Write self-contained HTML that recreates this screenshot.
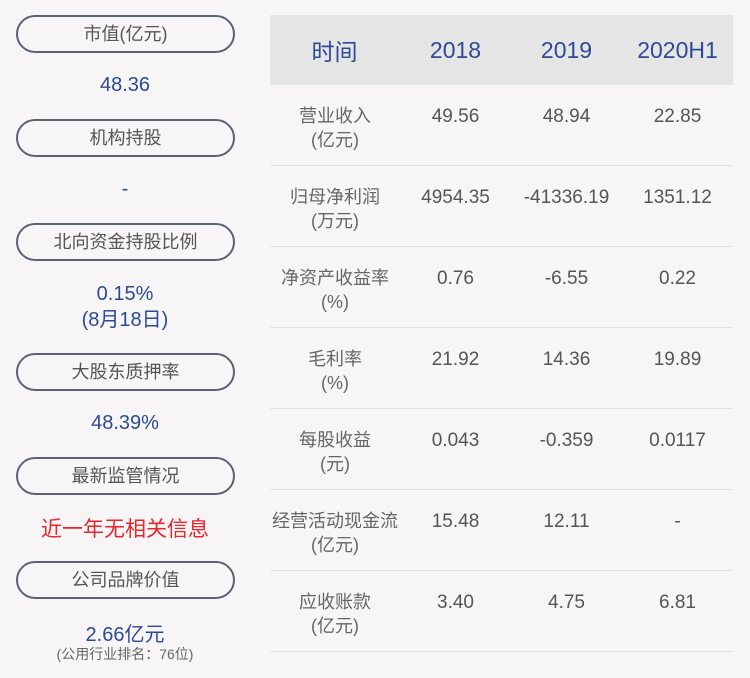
<!DOCTYPE html>
<html><head><meta charset="utf-8"><style>
body{margin:0;width:750px;height:678px;background:#f8f5f6;font-family:"Liberation Sans","Noto Sans CJK SC",sans-serif;position:relative;overflow:hidden}
.p{position:absolute;left:16px;width:215px;height:34px;border:2px solid #5b6271;border-radius:19px;text-align:center;line-height:34px;font-size:18px;color:#555}
.v{position:absolute;left:0;width:250px;text-align:center;font-size:20px;color:#2d4a94}
.t{position:absolute;text-align:center;width:111px;font-size:19px;color:#555}
.l{position:absolute;left:270px;width:130px;text-align:center;font-size:18px;color:#666;line-height:24px}
.h{position:absolute;left:270px;width:463px;height:1px;background:#e3e1e2}
</style></head><body>
<div class="p" style="top:15px">市值(亿元)</div>
<div class="v" style="top:74px">48.36</div>
<div class="p" style="top:119px">机构持股</div>
<div class="v" style="top:178px">-</div>
<div class="p" style="top:223px">北向资金持股比例</div>
<div class="v" style="top:281px;line-height:26px">0.15%<br>(8月18日)</div>
<div class="p" style="top:353px">大股东质押率</div>
<div class="v" style="top:412px">48.39%</div>
<div class="p" style="top:457px">最新监管情况</div>
<div class="v" style="top:513px;color:#e8262b;font-size:21px">近一年无相关信息</div>
<div class="p" style="top:561px">公司品牌价值</div>
<div class="v" style="top:618px">2.66亿元</div>
<div class="v" style="top:644px;font-size:14px;color:#666">(公用行业排名：76位)</div>

<div style="position:absolute;left:270px;top:15px;width:463px;height:70px;background:#e6e5e6"></div>
<div class="t" style="left:279px;top:33px;font-size:23px;color:#2d4a94">时间</div>
<div class="t" style="left:400px;top:37px;font-size:23px;color:#2d4a94">2018</div>
<div class="t" style="left:511px;top:37px;font-size:23px;color:#2d4a94">2019</div>
<div class="t" style="left:622px;top:37px;font-size:23px;color:#2d4a94">2020H1</div>

<div class="l" style="top:104px">营业收入<br>(亿元)</div>
<div class="t" style="left:400px;top:106px">49.56</div><div class="t" style="left:511px;top:106px">48.94</div><div class="t" style="left:622px;top:106px">22.85</div>
<div class="h" style="top:165px"></div>
<div class="l" style="top:185px">归母净利润<br>(万元)</div>
<div class="t" style="left:400px;top:187px">4954.35</div><div class="t" style="left:511px;top:187px">-41336.19</div><div class="t" style="left:622px;top:187px">1351.12</div>
<div class="h" style="top:246px"></div>
<div class="l" style="top:266px">净资产收益率<br>(%)</div>
<div class="t" style="left:400px;top:268px">0.76</div><div class="t" style="left:511px;top:268px">-6.55</div><div class="t" style="left:622px;top:268px">0.22</div>
<div class="h" style="top:327px"></div>
<div class="l" style="top:347px">毛利率<br>(%)</div>
<div class="t" style="left:400px;top:349px">21.92</div><div class="t" style="left:511px;top:349px">14.36</div><div class="t" style="left:622px;top:349px">19.89</div>
<div class="h" style="top:408px"></div>
<div class="l" style="top:428px">每股收益<br>(元)</div>
<div class="t" style="left:400px;top:430px">0.043</div><div class="t" style="left:511px;top:430px">-0.359</div><div class="t" style="left:622px;top:430px">0.0117</div>
<div class="h" style="top:489px"></div>
<div class="l" style="top:509px">经营活动现金流<br>(亿元)</div>
<div class="t" style="left:400px;top:511px">15.48</div><div class="t" style="left:511px;top:511px">12.11</div><div class="t" style="left:622px;top:511px">-</div>
<div class="h" style="top:570px"></div>
<div class="l" style="top:590px">应收账款<br>(亿元)</div>
<div class="t" style="left:400px;top:592px">3.40</div><div class="t" style="left:511px;top:592px">4.75</div><div class="t" style="left:622px;top:592px">6.81</div>
<div class="h" style="top:651px"></div>
</body></html>
